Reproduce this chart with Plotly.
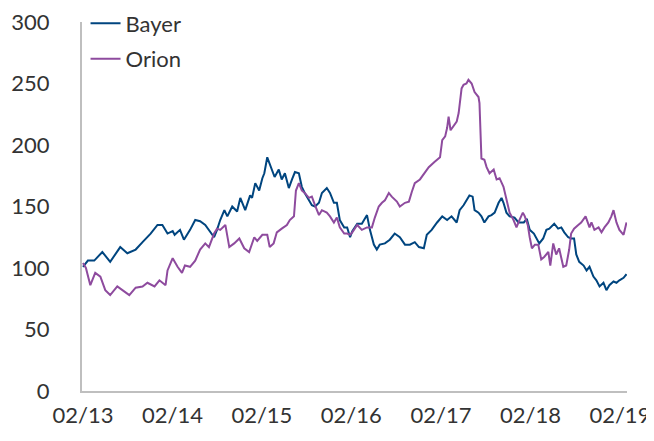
import plotly.graph_objects as go

bayer_dates = [
    "2013-02-01", "2013-02-21", "2013-03-19", "2013-04-21", "2013-05-23", "2013-07-03", "2013-08-01",
    "2013-09-04", "2013-10-02", "2013-11-04", "2013-12-02", "2013-12-22", "2014-01-12", "2014-02-02",
    "2014-02-10", "2014-03-04", "2014-03-20", "2014-04-14", "2014-05-05", "2014-05-25", "2014-06-15",
    "2014-07-05", "2014-07-21", "2014-08-02", "2014-08-15", "2014-09-01", "2014-09-13", "2014-10-03",
    "2014-10-23", "2014-11-05", "2014-11-25", "2014-12-15", "2014-12-23", "2015-01-05", "2015-01-21",
    "2015-02-03", "2015-02-11", "2015-02-23", "2015-03-05", "2015-03-13", "2015-03-25", "2015-04-11",
    "2015-04-23", "2015-05-06", "2015-05-22", "2015-06-04", "2015-06-16", "2015-07-02", "2015-07-14",
    "2015-07-26", "2015-08-12", "2015-08-24", "2015-09-06", "2015-09-22", "2015-10-04", "2015-10-24",
    "2015-11-06", "2015-11-22", "2015-12-04", "2015-12-16", "2016-01-03", "2016-01-15", "2016-01-27",
    "2016-02-05", "2016-02-25", "2016-03-15", "2016-04-05", "2016-04-17", "2016-05-03", "2016-05-15",
    "2016-05-27", "2016-06-17", "2016-07-07", "2016-07-27", "2016-08-17", "2016-09-07", "2016-09-27",
    "2016-10-17", "2016-11-03", "2016-11-23", "2016-12-05", "2016-12-25", "2017-01-16", "2017-02-06",
    "2017-02-26", "2017-03-16", "2017-04-06", "2017-04-18", "2017-05-04", "2017-05-16", "2017-05-28",
    "2017-06-10", "2017-06-18", "2017-07-04", "2017-07-16", "2017-07-28", "2017-08-14", "2017-08-26",
    "2017-09-08", "2017-09-24", "2017-10-06", "2017-10-14", "2017-10-26", "2017-11-08", "2017-11-28",
    "2017-12-14", "2018-01-05", "2018-01-17", "2018-01-29", "2018-02-15", "2018-02-27", "2018-03-09",
    "2018-03-25", "2018-04-07", "2018-04-19", "2018-05-09", "2018-05-25", "2018-06-07", "2018-06-19",
    "2018-07-05", "2018-07-17", "2018-07-29", "2018-08-07", "2018-08-19", "2018-09-06", "2018-09-18",
    "2018-09-30", "2018-10-16", "2018-10-28", "2018-11-10", "2018-11-26", "2018-12-08", "2018-12-20",
    "2019-01-06", "2019-01-18", "2019-01-30", "2019-02-16", "2019-02-28",
]
bayer_values = [
    101, 106, 106, 113, 105, 117, 112,
    115, 121, 128, 135, 135, 128, 130,
    127, 131, 123, 131, 139, 138, 135,
    129, 125, 131, 139, 147, 142, 150,
    146, 157, 147, 159, 157, 169, 163,
    173, 177, 190, 185, 181, 174, 180,
    172, 177, 165, 172, 178, 177, 166,
    161, 155, 151, 150, 153, 161, 165,
    161, 153, 153, 139, 133, 133, 125,
    130, 136, 136, 143, 131, 119, 115,
    119, 120, 123, 128, 125, 119, 119,
    121, 117, 116, 127, 131, 137, 142,
    139, 142, 137, 147, 151, 155, 159,
    158, 147, 145, 142, 137, 142, 143,
    145, 153, 157, 153, 145, 142, 141,
    137, 137, 140, 131, 128, 124, 120,
    124, 131, 132, 136, 132, 133, 129,
    125, 124, 124, 111, 105, 102, 98,
    101, 93, 90, 85, 88, 82, 86,
    89, 88, 90, 92, 95,
]

orion_dates = [
    "2013-02-01", "2013-02-13", "2013-03-03", "2013-03-23", "2013-04-13", "2013-05-03", "2013-05-23",
    "2013-06-21", "2013-07-19", "2013-08-09", "2013-09-04", "2013-10-02", "2013-10-22", "2013-11-20",
    "2013-12-10", "2014-01-04", "2014-01-12", "2014-02-02", "2014-02-22", "2014-03-12", "2014-03-24",
    "2014-04-14", "2014-05-05", "2014-05-25", "2014-06-15", "2014-06-30", "2014-07-21", "2014-08-02",
    "2014-08-15", "2014-09-05", "2014-09-21", "2014-10-11", "2014-11-01", "2014-11-21", "2014-12-11",
    "2015-01-01", "2015-01-13", "2015-02-03", "2015-02-23", "2015-03-05", "2015-03-21", "2015-04-03",
    "2015-04-23", "2015-05-14", "2015-05-26", "2015-06-12", "2015-06-20", "2015-07-02", "2015-07-14",
    "2015-07-26", "2015-08-12", "2015-08-24", "2015-09-06", "2015-09-22", "2015-10-04", "2015-10-24",
    "2015-11-06", "2015-11-22", "2015-12-04", "2015-12-16", "2016-01-03", "2016-01-15", "2016-01-27",
    "2016-02-05", "2016-02-25", "2016-03-15", "2016-04-05", "2016-04-25", "2016-05-07", "2016-05-23",
    "2016-06-05", "2016-06-17", "2016-07-03", "2016-07-15", "2016-08-05", "2016-08-17", "2016-09-07",
    "2016-09-23", "2016-10-05", "2016-10-17", "2016-11-07", "2016-11-27", "2016-12-13", "2017-01-04",
    "2017-01-16", "2017-01-28", "2017-02-06", "2017-02-18", "2017-02-26", "2017-03-04", "2017-03-12",
    "2017-03-24", "2017-04-06", "2017-04-14", "2017-04-18", "2017-04-26", "2017-05-04", "2017-05-16",
    "2017-05-24", "2017-06-06", "2017-06-18", "2017-07-04", "2017-07-08", "2017-07-12", "2017-07-16",
    "2017-07-28", "2017-08-06", "2017-08-18", "2017-09-04", "2017-09-16", "2017-09-28", "2017-10-14",
    "2017-10-26", "2017-11-08", "2017-11-24", "2017-12-06", "2017-12-18", "2018-01-01", "2018-01-09",
    "2018-01-21", "2018-01-29", "2018-02-07", "2018-02-19", "2018-03-05", "2018-03-17", "2018-03-29",
    "2018-04-15", "2018-04-23", "2018-05-05", "2018-05-17", "2018-05-29", "2018-06-15", "2018-06-27",
    "2018-07-09", "2018-07-17", "2018-07-29", "2018-08-15", "2018-08-27", "2018-09-14", "2018-09-30",
    "2018-10-08", "2018-10-20", "2018-11-06", "2018-11-18", "2018-11-30", "2018-12-16", "2018-12-28",
    "2019-01-06", "2019-01-18", "2019-01-30", "2019-02-16", "2019-02-28",
]
orion_values = [
    104, 100, 86, 96, 93, 82, 78,
    85, 81, 78, 84, 85, 88, 85,
    90, 86, 98, 108, 101, 96, 102,
    101, 106, 115, 120, 117, 128, 132,
    131, 135, 117, 120, 124, 116, 113,
    125, 122, 127, 127, 117, 120, 129,
    132, 135, 139, 142, 163, 169, 163,
    161, 157, 158, 151, 143, 147, 145,
    142, 137, 141, 133, 128, 128, 127,
    129, 135, 131, 133, 133, 141, 150,
    153, 155, 161, 158, 154, 150, 153,
    154, 162, 169, 172, 178, 182, 186,
    188, 190, 204, 207, 214, 223, 212,
    215, 219, 226, 234, 246, 249, 250,
    253, 250, 243, 239, 234, 204, 189,
    188, 182, 177, 180, 172, 173, 166,
    155, 145, 139, 133, 139, 145, 142,
    135, 125, 116, 119, 119, 107, 109,
    113, 102, 120, 111, 116, 101, 102,
    115, 128, 132, 135, 137, 142, 133,
    137, 131, 133, 129, 133, 137, 142,
    147, 137, 131, 127, 137,
]

tick_dates = ["2013-02-01", "2014-02-01", "2015-02-01", "2016-02-01",
              "2017-02-01", "2018-02-01", "2019-02-01"]
tick_labels = ["02/13", "02/14", "02/15", "02/16", "02/17", "02/18", "02/19"]
y_ticks = [0, 50, 100, 150, 200, 250, 300]

FONT = "Lato, 'Open Sans', sans-serif"
BAYER_C = "#00457F"
ORION_C = "#8E4B9E"

fig = go.Figure()
fig.add_trace(go.Scatter(x=bayer_dates, y=bayer_values, name="Bayer", mode="lines",
                         line=dict(color=BAYER_C, width=2), legendgroup="a"))
fig.add_trace(go.Scatter(x=orion_dates, y=orion_values, name="Orion", mode="lines",
                         line=dict(color=ORION_C, width=2), legendgroup="b"))

# The page body adds an 8px margin, so the figure is sized to fit inside the window.
fig.update_layout(
    width=646, height=425,
    margin=dict(l=74, r=27, t=14, b=42, autoexpand=False),
    paper_bgcolor="white", plot_bgcolor="white",
    font=dict(family=FONT, size=22, color="#333333"),
    showlegend=True,
    legend=dict(x=0.0065, y=1.053, xanchor="left", yanchor="top",
                bgcolor="rgba(0,0,0,0)", font=dict(size=22, color="#333333"),
                tracegroupgap=4, traceorder="grouped"),
    xaxis=dict(type="date", range=["2013-01-28", "2019-03-02"],
               tickvals=tick_dates, ticktext=tick_labels,
               showgrid=False, zeroline=False, automargin=False,
               showline=True, linecolor="#BFBFBF", linewidth=2,
               ticks="", ticklabelstandoff=4, ticklabeloverflow="allow"),
    yaxis=dict(range=[0, 300], tickvals=y_ticks,
               showgrid=False, zeroline=False, automargin=False,
               showline=True, linecolor="#BFBFBF", linewidth=2,
               ticks="", ticklabelstandoff=26, ticklabeloverflow="allow"),
)

fig.write_html("out.html")
